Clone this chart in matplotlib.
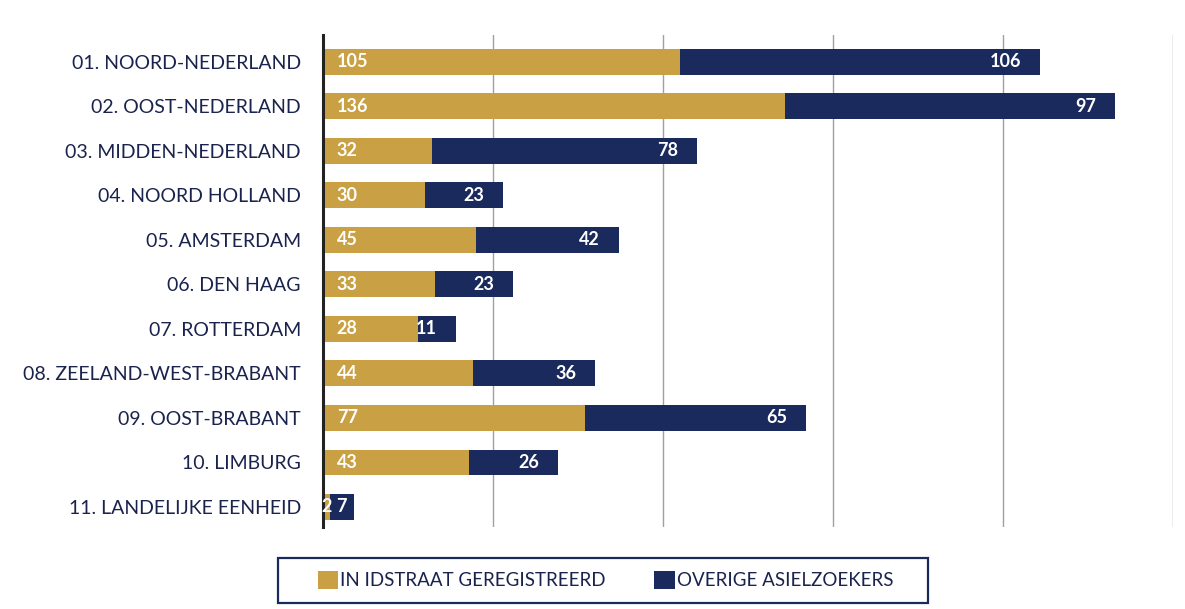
import numpy as np
import matplotlib.pyplot as plt
from matplotlib.patches import Rectangle

plt.rcParams['font.family'] = ['Lato', 'DejaVu Sans']

regions = ['01. NOORD-NEDERLAND', '02. OOST-NEDERLAND', '03. MIDDEN-NEDERLAND',
           '04. NOORD HOLLAND', '05. AMSTERDAM', '06. DEN HAAG', '07. ROTTERDAM',
           '08. ZEELAND-WEST-BRABANT', '09. OOST-BRABANT', '10. LIMBURG',
           '11. LANDELIJKE EENHEID']
idstraat = [105, 136, 32, 30, 45, 33, 28, 44, 77, 43, 2]
overig = [106, 97, 78, 23, 42, 23, 11, 36, 65, 26, 7]

gold = '#c9a043'
navy = '#1b2a5c'
label_col = '#1a234d'

fig = plt.figure(figsize=(11.85, 6.09), dpi=100)
fig.patch.set_facecolor('white')
ax = fig.add_axes([0.2726, 0.1346, 0.7173, 0.808])

y = np.arange(len(regions))
b1 = ax.barh(y, idstraat, height=0.58, color=gold, label='IN IDSTRAAT GEREGISTREERD')
b2 = ax.barh(y, overig, left=idstraat, height=0.58, color=navy, label='OVERIGE ASIELZOEKERS')

for i in range(len(regions)):
    g = idstraat[i]
    o = overig[i]
    if g < 8:
        ax.text(g / 2, i, str(g), ha='center', va='center', color='white',
                fontsize=13, fontweight='bold')
    else:
        ax.text(4, i, str(g), ha='left', va='center', color='white',
                fontsize=13, fontweight='bold')
    if o < 8:
        ax.text(g + o / 2, i, str(o), ha='center', va='center', color='white',
                fontsize=13, fontweight='bold')
    else:
        ax.text(g + o - 5.5, i, str(o), ha='right', va='center', color='white',
                fontsize=13, fontweight='bold')

ax.set_xlim(0, 250)
ax.set_ylim(10.45, -0.6)
ax.set_yticks(y)
ax.set_yticklabels(regions, fontsize=14, color=label_col)
ax.tick_params(axis='y', length=0, pad=16)
ax.set_xticks([50, 100, 150, 200, 250])
ax.set_xticklabels([])
ax.tick_params(axis='x', length=0)
ax.grid(axis='x', color='#a0a0a0', linewidth=1)
ax.set_axisbelow(True)
for s in ['top', 'right', 'bottom']:
    ax.spines[s].set_visible(False)
ax.spines['left'].set_color('#222222')
ax.spines['left'].set_linewidth(2.2)

leg = fig.legend(handles=[b1, b2], loc='center', bbox_to_anchor=(0.511, 0.0476),
                 ncol=2, frameon=False, fontsize=13.5,
                 handlelength=1.1, handleheight=1.1, handletextpad=0.1,
                 columnspacing=2.6, borderpad=0.7, borderaxespad=0)
for t in leg.get_texts():
    t.set_color(label_col)

# legend frame drawn wider than the legend content, as in the original
fig.patches.append(Rectangle((278 / 1185, 6 / 609), 650 / 1185, 45 / 609,
                             transform=fig.transFigure, fill=False,
                             edgecolor=navy, linewidth=1.6))

fig.savefig('out.png', dpi=100, facecolor=fig.get_facecolor())
